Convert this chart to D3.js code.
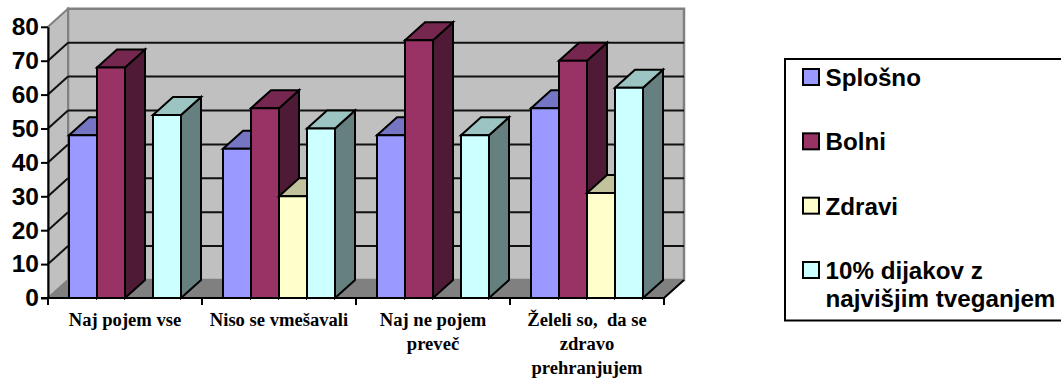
<!DOCTYPE html>
<html>
<head>
<meta charset="utf-8">
<script src="https://cdn.jsdelivr.net/npm/d3@7/dist/d3.min.js"></script>
<style>
html,body{margin:0;padding:0;background:#fff;overflow:hidden}
svg{display:block}
</style>
</head>
<body>
<svg id="chart" width="1061" height="378"></svg>
<script>
// Survey answers by group, in percent
const categories = ["Naj pojem vse", "Niso se vmešavali", "Naj ne pojem preveč", "Želeli so,  da se zdravo prehranjujem"];
const categoryLines = [["Naj pojem vse"], ["Niso se vmešavali"], ["Naj ne pojem", "preveč"], ["Želeli so,  da se", "zdravo", "prehranjujem"]];
const seriesNames = ["Splošno", "Bolni", "Zdravi", "10% dijakov z najvišjim tveganjem"];
const splosno = [48, 44, 48, 56];
const bolni = [68, 56, 76, 70];
const zdravi = [null, 30, null, 31];
const tvegani = [54, 50, 48, 62];
const seriesValues = [splosno, bolni, zdravi, tvegani];
const yTicks = [0, 10, 20, 30, 40, 50, 60, 70, 80];

// Front, top and side shades per series
const fronts = ["#9999ff", "#993366", "#ffffcc", "#ccffff"];
const tops = ["#7575c4", "#76274f", "#c2c29c", "#9cc4c2"];
const sides = ["#4f1a35", "#4f1a35", "#84846a", "#668080"];

const svg = d3.select("#chart");
const depthX = 20, depthY = -18;
const x = d3.scaleBand().domain(categories).range([48, 664]);
const y = d3.scaleLinear().domain([0, 80]).range([298, 26.8]);
const inner = d3.scaleBand().domain(d3.range(4)).range([21, 133]);
const path = pts => "M" + pts.map(p => p.join(",")).join("L") + "Z";
const X0 = x.range()[0], X1 = x.range()[1];

// Walls and floor of the 3D box
const walls = svg.append("g");
walls.append("path").attr("fill", "#c0c0c0").attr("stroke", "#808080").attr("stroke-width", 2.5)
  .attr("d", path([[X0 + depthX, y(80) + depthY], [X1 + depthX, y(80) + depthY], [X1 + depthX, y(0) + depthY], [X0 + depthX, y(0) + depthY]]));
walls.append("path").attr("fill", "#c0c0c0").attr("stroke", "#808080").attr("stroke-width", 2)
  .attr("d", path([[X0, y(80)], [X0 + depthX, y(80) + depthY], [X0 + depthX, y(0) + depthY], [X0, y(0)]]));
walls.append("path").attr("fill", "#808080")
  .attr("d", path([[X0, y(0)], [X1, y(0)], [X1 + depthX, y(0) + depthY], [X0 + depthX, y(0) + depthY]]));
walls.append("line").attr("stroke", "#000").attr("stroke-width", 2)
  .attr("x1", X1).attr("y1", y(0)).attr("x2", X1 + depthX).attr("y2", y(0) + depthY);

// Gridlines along the back wall and the side wall
const gridTicks = yTicks.filter(t => t > 0 && t < 80);
walls.selectAll("line.back").data(gridTicks).join("line").attr("class", "back")
  .attr("x1", X0 + depthX).attr("x2", X1 + depthX)
  .attr("y1", d => y(d) + depthY).attr("y2", d => y(d) + depthY)
  .attr("stroke", "#111").attr("stroke-width", 2);
walls.selectAll("line.side").data(gridTicks).join("line").attr("class", "side")
  .attr("x1", X0).attr("x2", X0 + depthX)
  .attr("y1", d => y(d)).attr("y2", d => y(d) + depthY)
  .attr("stroke", "#111").attr("stroke-width", 2);

// Bars, each a front face with a top and a right side
const bars = svg.append("g");
categories.forEach((cat, c) => {
  seriesValues.forEach((vals, s) => {
    const v = vals[c];
    if (v === null) return;
    const l = x(cat) + inner(s), r = l + inner.bandwidth(), t = y(v), b = y(0);
    const g = bars.append("g").attr("stroke", "#000")
      .attr("stroke-width", 2).attr("stroke-linejoin", "miter");
    g.append("path").attr("fill", sides[s])
      .attr("d", path([[r, t], [r + depthX, t + depthY], [r + depthX, b + depthY], [r, b]]));
    g.append("path").attr("fill", tops[s])
      .attr("d", path([[l, t], [l + depthX, t + depthY], [r + depthX, t + depthY], [r, t]]));
    g.append("path").attr("fill", fronts[s])
      .attr("d", path([[l, t], [r, t], [r, b], [l, b]]));
  });
});

// Value axis
const yAxis = svg.append("g").attr("transform", `translate(${X0},0)`)
  .call(d3.axisLeft(y).tickValues(yTicks).tickSize(7).tickPadding(2).tickSizeOuter(0));
yAxis.selectAll(".domain, line").attr("stroke", "#000").attr("stroke-width", 2);
yAxis.selectAll("text").attr("font-family", "'Liberation Sans', Arial, sans-serif")
  .attr("font-weight", "bold").attr("font-size", 24.5).attr("fill", "#000");

// Category axis with wrapped labels
const xAxisG = svg.append("g");
xAxisG.append("line").attr("x1", X0 - 7).attr("x2", X1).attr("y1", y(0)).attr("y2", y(0))
  .attr("stroke", "#000").attr("stroke-width", 2);
xAxisG.selectAll("line.tick").data(d3.range(5)).join("line").attr("class", "tick")
  .attr("x1", d => X0 + d * x.bandwidth()).attr("x2", d => X0 + d * x.bandwidth())
  .attr("y1", y(0)).attr("y2", y(0) + 7).attr("stroke", "#000").attr("stroke-width", 2);
xAxisG.selectAll("text.cat").data(categories).join("text").attr("class", "cat")
  .attr("text-anchor", "middle").attr("font-family", "'Liberation Serif', 'Times New Roman', serif")
  .attr("font-weight", "bold").attr("font-size", 18.6).attr("fill", "#000")
  .each(function (d, i) {
    d3.select(this).selectAll("tspan").data(categoryLines[i]).join("tspan")
      .attr("x", x(d) + x.bandwidth() / 2)
      .attr("y", (l, j) => 326 + j * 24)
      .style("white-space", "pre").text(l => l);
  });

// Legend, running past the right edge of the page
const legend = svg.append("g");
legend.append("rect").attr("x", 785).attr("y", 59).attr("width", 300).attr("height", 261.5)
  .attr("fill", "#fff").attr("stroke", "#000").attr("stroke-width", 2);
const legendY = d3.scalePoint().domain(seriesNames).range([69, 262]);
const legendLines = [["Splošno"], ["Bolni"], ["Zdravi"], ["10% dijakov z", "najvišjim tveganjem"]];
seriesNames.forEach((n, i) => {
  legend.append("rect").attr("x", 803).attr("y", legendY(n)).attr("width", 16).attr("height", 16)
    .attr("fill", fronts[i]).attr("stroke", "#000").attr("stroke-width", 2);
  const t = legend.append("text").attr("font-family", "'Liberation Sans', Arial, sans-serif")
    .attr("font-weight", "bold").attr("font-size", 24.2).attr("fill", "#000");
  legendLines[i].forEach((line, j) => {
    t.append("tspan").attr("x", 825.5).attr("y", legendY(n) + 17 + j * 27.5).text(line);
  });
});
</script>
</body>
</html>
